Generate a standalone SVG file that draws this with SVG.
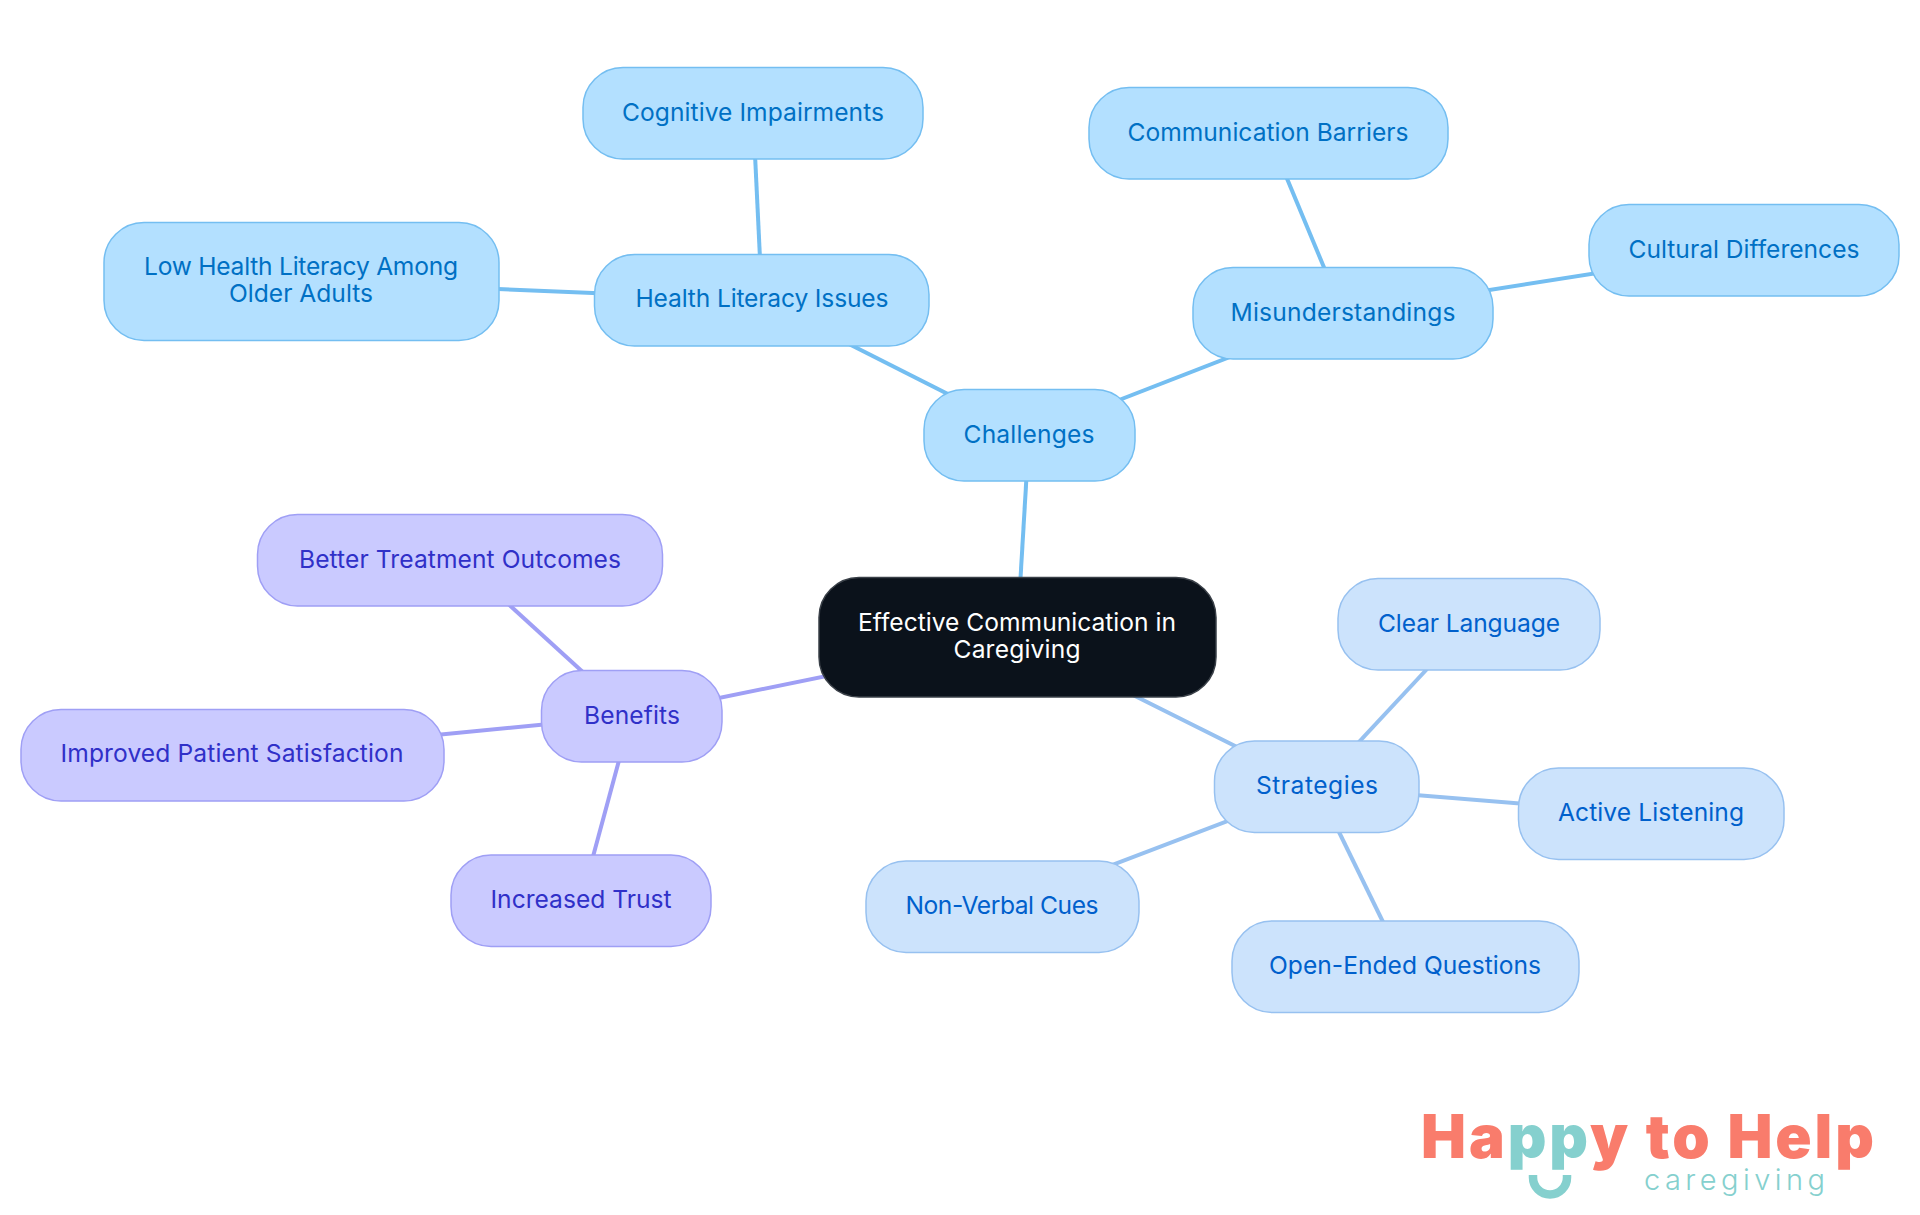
<svg xmlns="http://www.w3.org/2000/svg" width="1920" height="1215" viewBox="0 0 1920 1215">
<style>
text{font-family:"Inter","Noto Sans","Liberation Sans",sans-serif;font-size:24.6px;text-anchor:middle}
.n rect{stroke-width:1.5}
.a rect{fill:#b3e0ff;stroke:#74bef1}.a text{fill:#0070c4}
.b rect{fill:#cce3fc;stroke:#97c1f0}.b text{fill:#0060cc}
.c rect{fill:#cacaff;stroke:#9f9ff5}.c text{fill:#3030c8}
.r rect{fill:#0b121b;stroke:#3a4048}.r text{fill:#fff}
#connectors line{stroke-width:4;fill:none}
.la{stroke:#74bef1}.lb{stroke:#97c1f0}.lc{stroke:#9f9ff5}
.logo{text-anchor:start}
</style>
<rect width="1920" height="1215" fill="#fff"/>
<g id="connectors">
<line class="la" x1="1017" y1="637" x2="1029" y2="435"/>
<line class="lb" x1="1017" y1="637" x2="1317" y2="787"/>
<line class="lc" x1="1017" y1="637" x2="631" y2="716"/>
<line class="la" x1="1029" y1="435" x2="762" y2="300"/>
<line class="la" x1="1029" y1="435" x2="1343" y2="313"/>
<line class="la" x1="762" y1="300" x2="753" y2="113"/>
<line class="la" x1="762" y1="300" x2="301" y2="281"/>
<line class="la" x1="1343" y1="313" x2="1268" y2="133"/>
<line class="la" x1="1343" y1="313" x2="1744" y2="250"/>
<line class="lb" x1="1317" y1="787" x2="1469" y2="624"/>
<line class="lb" x1="1317" y1="787" x2="1651" y2="814"/>
<line class="lb" x1="1317" y1="787" x2="1405" y2="967"/>
<line class="lb" x1="1317" y1="787" x2="1002" y2="907"/>
<line class="lc" x1="631" y1="716" x2="460" y2="560"/>
<line class="lc" x1="631" y1="716" x2="232" y2="755"/>
<line class="lc" x1="631" y1="716" x2="581" y2="901"/>
</g>
<g id="root" class="n r"><rect x="819" y="577.500" width="397" height="119.500" rx="40"/><text x="1017" y="631" textLength="318">Effective Communication in</text><text x="1017" y="658" textLength="127">Caregiving</text></g>
<g id="challenges" class="n a"><rect x="924" y="389.500" width="211" height="91.500" rx="40"/><text x="1029" y="443" textLength="131">Challenges</text></g>
<g id="health" class="n a"><rect x="594.500" y="254.500" width="334.500" height="91.500" rx="40"/><text x="762" y="307" textLength="253">Health Literacy Issues</text></g>
<g id="cognitive" class="n a"><rect x="583" y="67.500" width="340" height="91.500" rx="40"/><text x="753" y="121" textLength="262">Cognitive Impairments</text></g>
<g id="lowhealth" class="n a"><rect x="104" y="222.500" width="395" height="118" rx="40"/><text x="301" y="274.500" textLength="314">Low Health Literacy Among</text><text x="301" y="301.500" textLength="144">Older Adults</text></g>
<g id="misunderstandings" class="n a"><rect x="1193" y="267.500" width="300" height="91.500" rx="40"/><text x="1343" y="321" textLength="225">Misunderstandings</text></g>
<g id="barriers" class="n a"><rect x="1089" y="87.500" width="359" height="91.500" rx="40"/><text x="1268" y="141" textLength="281">Communication Barriers</text></g>
<g id="cultural" class="n a"><rect x="1589" y="204.500" width="310" height="91.500" rx="40"/><text x="1744" y="258" textLength="231">Cultural Differences</text></g>
<g id="strategies" class="n b"><rect x="1214.500" y="741" width="204.500" height="91.500" rx="40"/><text x="1317" y="794" textLength="122">Strategies</text></g>
<g id="clear" class="n b"><rect x="1338" y="578.500" width="262" height="91.500" rx="40"/><text x="1469" y="632" textLength="182">Clear Language</text></g>
<g id="active" class="n b"><rect x="1518.500" y="768" width="265.500" height="91.500" rx="40"/><text x="1651" y="821" textLength="186">Active Listening</text></g>
<g id="openended" class="n b"><rect x="1232" y="921" width="347" height="91.500" rx="40"/><text x="1405" y="974" textLength="272">Open-Ended Questions</text></g>
<g id="nonverbal" class="n b"><rect x="866" y="861" width="273" height="91.500" rx="40"/><text x="1002" y="914" textLength="193">Non-Verbal Cues</text></g>
<g id="benefits" class="n c"><rect x="541.500" y="670.500" width="180.500" height="91.500" rx="40"/><text x="632" y="723.500" textLength="96">Benefits</text></g>
<g id="better" class="n c"><rect x="257.500" y="514.500" width="405" height="91.500" rx="40"/><text x="460" y="567.500" textLength="322">Better Treatment Outcomes</text></g>
<g id="improved" class="n c"><rect x="21" y="709.500" width="423" height="91.500" rx="40"/><text x="232" y="762" textLength="343">Improved Patient Satisfaction</text></g>
<g id="trust" class="n c"><rect x="451" y="855" width="260" height="91.500" rx="40"/><text x="581" y="908" textLength="181">Increased Trust</text></g>
<g id="logo">
<text class="logo" x="1421" y="1158" textLength="453" style="font-size:60px;font-weight:900;fill:#f97c6c">Ha<tspan fill="#85d0ce">pp</tspan>y to Help</text>
<text class="logo" x="1644" y="1190" textLength="181" style="font-size:29px;font-weight:300;fill:#85d0ce">caregiving</text>
<path d="M1533 1175v2.500a17 17 0 0 0 34 0v-2.500" fill="none" stroke="#85d0ce" stroke-width="8.500"/>
</g>
</svg>
